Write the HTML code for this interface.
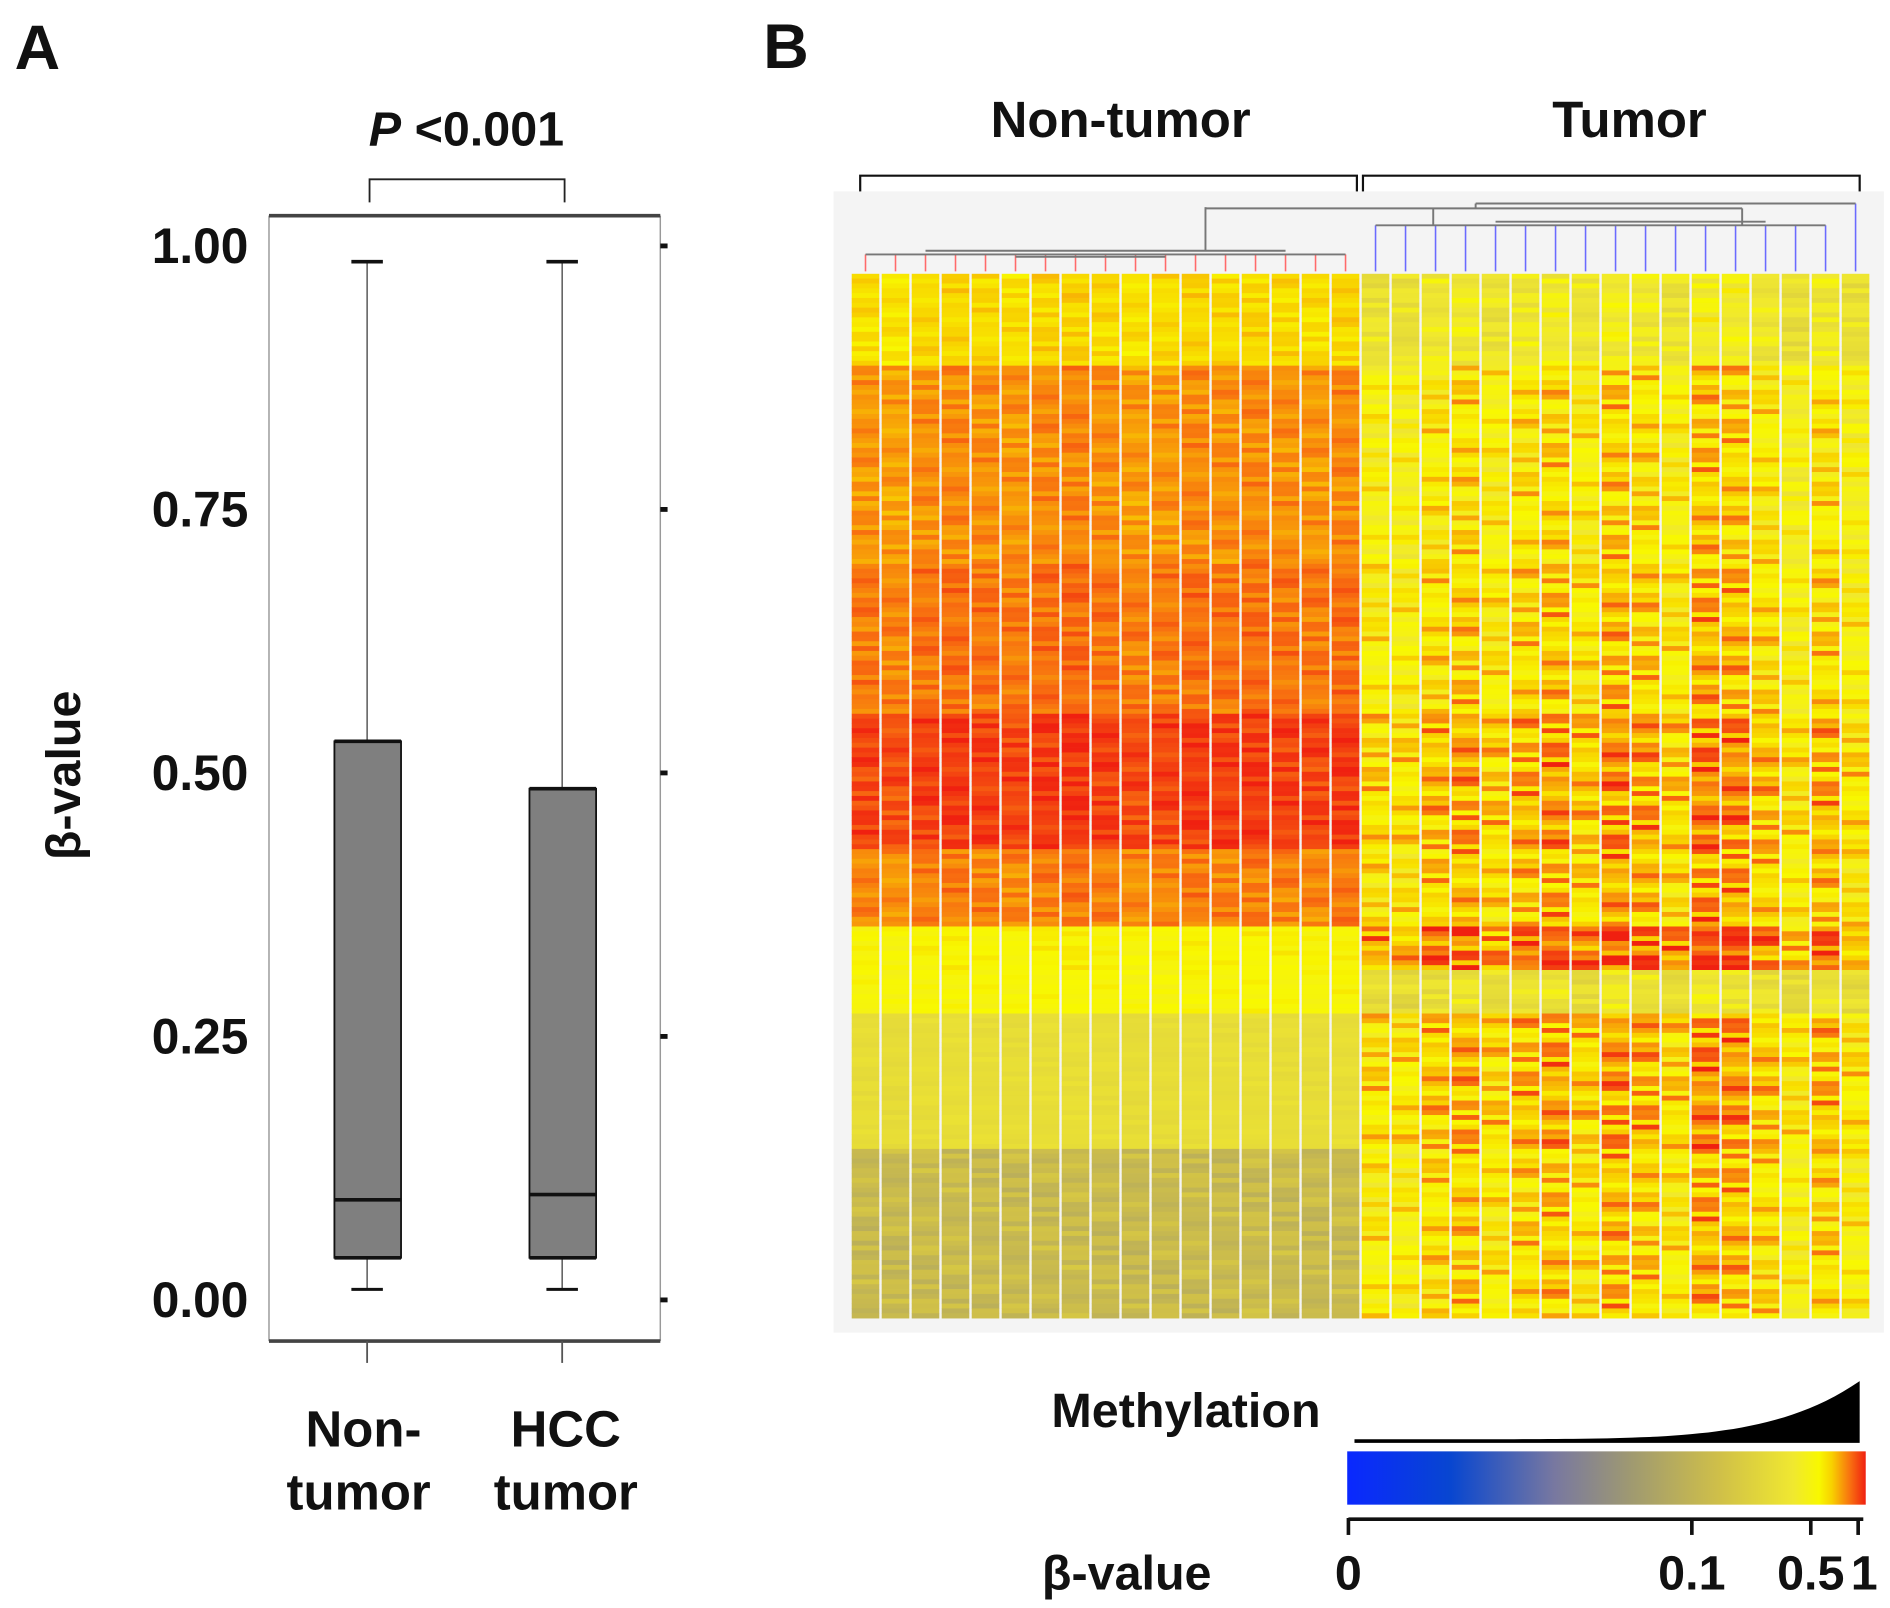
<!DOCTYPE html>
<html><head><meta charset="utf-8"><style>
html,body{margin:0;padding:0;background:#fff;}
svg{display:block;}
text{font-family:"Liberation Sans",Arial,sans-serif;font-weight:bold;fill:#111;}
</style></head><body>
<svg id="fig" width="1890" height="1608" viewBox="0 0 1560 1327.3" xmlns="http://www.w3.org/2000/svg">
<defs>
<linearGradient id="cb" x1="0" x2="1" y1="0" y2="0">
<stop offset="0" stop-color="#0a28ff"/><stop offset="0.2" stop-color="#0846d0"/>
<stop offset="0.4" stop-color="#7878a0"/><stop offset="0.55" stop-color="#a09a70"/>
<stop offset="0.72" stop-color="#d0c048"/><stop offset="0.86" stop-color="#f0e830"/>
<stop offset="0.91" stop-color="#f8f800"/><stop offset="0.935" stop-color="#f8d000"/>
<stop offset="0.97" stop-color="#f87010"/><stop offset="1" stop-color="#f02010"/>
</linearGradient>
</defs>
<!-- Panel A -->
<text x="12" y="57" font-size="52">A</text>
<text x="385" y="120" font-size="40" text-anchor="middle"><tspan font-style="italic">P</tspan> &lt;0.001</text>
<path d="M305,167 V148 H466 V167" fill="none" stroke="#222" stroke-width="1.5"/>
<g id="boxA">
<line x1="222" y1="178" x2="222" y2="1107" stroke="#999" stroke-width="1.2"/>
<line x1="545" y1="178" x2="545" y2="1107" stroke="#999" stroke-width="1.2"/>
<line x1="222" y1="178" x2="545" y2="178" stroke="#444" stroke-width="3"/>
<line x1="222" y1="1107" x2="545" y2="1107" stroke="#444" stroke-width="3"/>
</g>
<text transform="translate(66,640) rotate(-90)" font-size="40" text-anchor="middle">β-value</text>
<g id="boxes"></g>
<g>
<text x="300" y="1194" font-size="42" text-anchor="middle">Non-</text>
<text x="296" y="1246" font-size="42" text-anchor="middle">tumor</text>
<text x="467" y="1194" font-size="42" text-anchor="middle">HCC</text>
<text x="467" y="1246" font-size="42" text-anchor="middle">tumor</text>
</g>
<!-- Panel B -->
<text x="630" y="56" font-size="52">B</text>
<text x="925" y="113" font-size="42" text-anchor="middle">Non-tumor</text>
<text x="1345" y="113" font-size="42" text-anchor="middle">Tumor</text>
<path d="M710,163 V145 H1120 V163" fill="none" stroke="#111" stroke-width="1.8"/>
<path d="M1125,163 V145 H1535 V163" fill="none" stroke="#111" stroke-width="1.8"/>
<rect x="688" y="158" width="867" height="942" fill="#f4f4f4"/>
<g id="dendro"></g>
<g id="heat"></g>
<text x="1090" y="1178" font-size="40" text-anchor="end">Methylation</text>
<path id="meth" fill="#000"/>
<rect x="1112" y="1198" width="428" height="44" fill="url(#cb)"/>
<g id="cbaxis"></g>
<text x="930" y="1312" font-size="40" text-anchor="middle">β-value</text>
</svg>
<script>
// ---- Panel A data ----
const yTicks = [0, 0.25, 0.5, 0.75, 1.0];
const yTickLabels = ["0.00", "0.25", "0.50", "0.75", "1.00"];
const groups = ["Non-tumor", "HCC tumor"];
const whiskerLow = [0.01, 0.01];
const q1 = [0.04, 0.04];
const median = [0.095, 0.10];
const q3 = [0.53, 0.485];
const whiskerHigh = [0.985, 0.985];
// ---- Panel B data ----
// band boundaries as fraction of rows, and mean colour-scale value per band
const bandEnds = [0.086, 0.277, 0.422, 0.55, 0.625, 0.666, 0.707, 0.84, 1.0];
const nonTumorBand = [0.925, 0.955, 0.965, 0.985, 0.960, 0.905, 0.900, 0.820, 0.690];
const tumorBand = [0.850, 0.905, 0.915, 0.935, 0.925, 0.960, 0.830, 0.930, 0.915];
const columnOffsetNT = [0.000,-0.004,0.002,0.004,0.002,0.000,0.004,0.006,0.002,-0.002,0.000,0.004,0.002,0.004,0.002,0.000,0.004];
const columnOffsetT = [-0.015,-0.02,0.0,0.01,-0.01,0.005,0.015,-0.005,0.02,0.01,-0.01,0.025,0.02,0.0,-0.025,0.005,-0.02];
const rowNoise = [0.02,-0.05,0.07,-0.01,0.04,-0.08,0.00,0.09,-0.03,0.05,-0.06,0.01,0.08,-0.04,0.03,-0.09,0.06,-0.02,0.10,-0.07,0.02,-0.01,0.05,-0.05,0.03,0.07,-0.03,0.00,-0.06,0.04,0.11];
const cbTicks = [0, 0.1, 0.5, 1];
const cbTickLabels = ["0", "0.1", "0.5", "1"];
const cbTickPos = [0, 0.667, 0.898, 0.99];

const NS = "http://www.w3.org/2000/svg";
function mk(tag, attrs, parent){const e=document.createElementNS(NS,tag);for(const k in attrs)e.setAttribute(k,attrs[k]);parent.appendChild(e);return e;}

// ---- Panel A ----
const yA = v => 1073 - 870*v;
const xA = i => 303 + i*161;
const boxes = document.getElementById('boxes');
yTicks.forEach((t,i)=>{
  const tk = mk('line',{x1:545,x2:551,y1:yA(t),y2:yA(t),stroke:'#111','stroke-width':4},boxes);
  
  
  const lb = mk('text',{x:205,y:yA(t)+14,'font-size':41,'text-anchor':'end'},boxes);
  lb.textContent = yTickLabels[i];
  
  
});
groups.forEach((g,i)=>{
  const cx = xA(i);
  const grp = mk('g',{},boxes);
  
  
  mk('line',{x1:cx,x2:cx,y1:yA(whiskerHigh[i]),y2:yA(q3[i]),stroke:'#555','stroke-width':1.2},grp);
  mk('line',{x1:cx,x2:cx,y1:yA(q1[i]),y2:yA(whiskerLow[i]),stroke:'#555','stroke-width':1.2},grp);
  mk('line',{x1:cx-13,x2:cx+13,y1:yA(whiskerHigh[i]),y2:yA(whiskerHigh[i]),stroke:'#111','stroke-width':3},grp);
  mk('line',{x1:cx-13,x2:cx+13,y1:yA(whiskerLow[i]),y2:yA(whiskerLow[i]),stroke:'#111','stroke-width':2.5},grp);
  mk('rect',{x:cx-27,y:yA(q3[i]),width:55,height:yA(q1[i])-yA(q3[i]),fill:'#7f7f7f',stroke:'#111','stroke-width':1.5},grp);
  mk('line',{x1:cx-27,x2:cx+28,y1:yA(q3[i]),y2:yA(q3[i]),stroke:'#111','stroke-width':3},grp);
  mk('line',{x1:cx-27,x2:cx+28,y1:yA(q1[i]),y2:yA(q1[i]),stroke:'#111','stroke-width':3},grp);
  mk('line',{x1:cx-27,x2:cx+28,y1:yA(median[i]),y2:yA(median[i]),stroke:'#111','stroke-width':3},grp);
  const xt = mk('line',{x1:cx,x2:cx,y1:1107,y2:1125,stroke:'#555','stroke-width':1.5},boxes);
  
  
});

// ---- Panel B heatmap ----
function lerp(a,b,t){return a+(b-a)*t;}
const cStops=[[0,[10,40,255]],[0.2,[8,70,208]],[0.4,[120,120,160]],[0.55,[160,154,112]],[0.72,[208,192,72]],[0.86,[240,232,48]],[0.91,[248,248,0]],[0.935,[248,208,0]],[0.97,[248,112,16]],[1,[240,32,16]]];
function colorOf(v){v=Math.max(0,Math.min(1,v));for(let i=1;i<cStops.length;i++){if(v<=cStops[i][0]){const a=cStops[i-1],b=cStops[i];const t=(v-a[0])/(b[0]-a[0]);return 'rgb('+a[1].map((c,k)=>Math.round(lerp(c,b[1][k],t))).join(',')+')';}}return 'rgb(240,32,16)';}
const HX0=703, HX1=1545, HY0=226, HY1=1088;
const nCols = columnOffsetNT.length + columnOffsetT.length;
const colW = (HX1-HX0)/nCols;
const nRows = 216;
const rowH = (HY1-HY0)/nRows;
const heat = document.getElementById('heat');
function bandOf(f){for(let i=0;i<bandEnds.length;i++){if(f<bandEnds[i])return i;}return bandEnds.length-1;}
for(let c=0;c<nCols;c++){
  const isT = c>=columnOffsetNT.length;
  const off = isT ? columnOffsetT[c-columnOffsetNT.length] : columnOffsetNT[c];
  const bands = isT ? tumorBand : nonTumorBand;
  const col = mk('g',{},heat);
  
  
  for(let r=0;r<nRows;r++){
    const b = bandOf((r+0.5)/nRows);
    const amp = isT ? 0.45 : (b===bands.length-1 ? 0.5 : 0.14);
    const n = rowNoise[(r*7 + (isT? c*11 : c*3)) % rowNoise.length];
    const v = bands[b] + off + n*amp;
    const cell = mk('rect',{x:(HX0+c*colW).toFixed(2),y:(HY0+r*rowH).toFixed(2),width:(colW-2).toFixed(2),height:(rowH+0.3).toFixed(2),fill:colorOf(v)},col);
    
    
  }
}
// dendrogram (schematic)
const dg = document.getElementById('dendro');
const colX = c => HX0 + c*colW + (colW-2)/2;
for(let c=0;c<nCols;c++){
  const isT = c>=columnOffsetNT.length;
  const top = isT ? (c===nCols-1 ? 168 : 186) : 210;
  const l = mk('line',{x1:colX(c),x2:colX(c),y1:top,y2:224,stroke:isT?'#6a6aff':'#ff6a6a','stroke-width':1.3},dg);
  
  
}
const gp = 'stroke:#777;stroke-width:1.6;fill:none';
[[colX(0),210,colX(16),210],[colX(2),207,colX(14),207],[colX(5),212,colX(10),212],
 [995,207,995,171],[colX(17),186,colX(32),186],[colX(21),183,colX(30),183],[1183,186,1183,172],
 [995,172,1438,172],[1438,172,1438,186],[1218,168,colX(33),168],[1218,168,1218,172]].forEach(s=>{
  const l = mk('line',{x1:s[0],y1:s[1],x2:s[2],y2:s[3],style:gp},dg);
  
  
});
// methylation ramp
let d='M1118,1190';
for(let i=0;i<=60;i++){const f=i/60;const x=1118+f*(1535-1118);const y=1190-2-48*Math.pow(f,6);d+=' L'+x.toFixed(1)+','+y.toFixed(1);}
d+=' L1535,1140 L1535,1191 L1118,1191 Z';
document.getElementById('meth').setAttribute('d',d);
// colour bar axis
const cba = document.getElementById('cbaxis');
const cbx = f => 1113 + f*(1538-1113);
mk('line',{x1:1113,x2:1538,y1:1254,y2:1254,stroke:'#111','stroke-width':3},cba);
cbTicks.forEach((t,i)=>{
  const x = cbx(cbTickPos[i]);
  const tk = mk('line',{x1:x,x2:x,y1:1253,y2:1267,stroke:'#111','stroke-width':3},cba);
  
  
  const lb = mk('text',{x:i===3?x+5:x,y:1312,'font-size':40,'text-anchor':'middle'},cba);
  lb.textContent = cbTickLabels[i];
  
  
});
</script>
</body></html>
